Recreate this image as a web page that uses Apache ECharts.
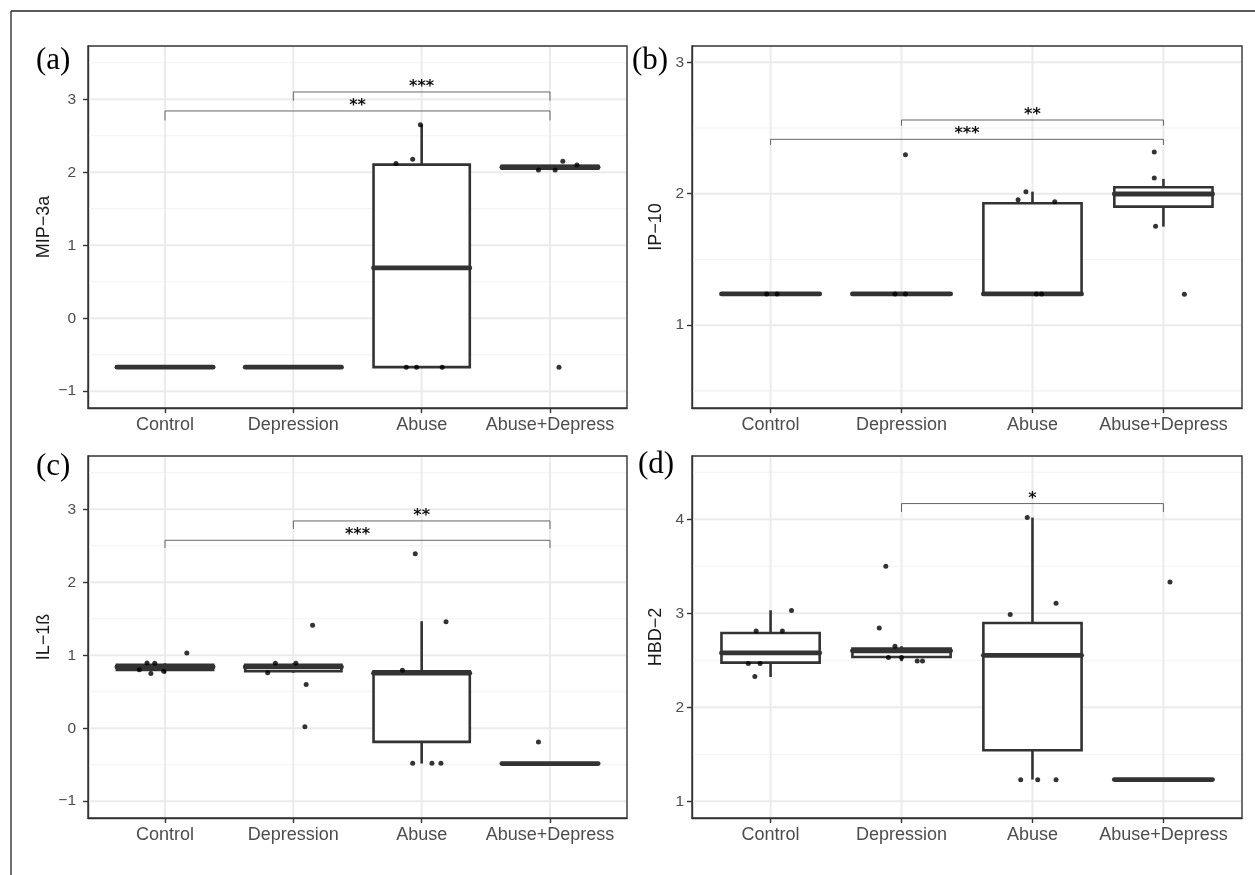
<!DOCTYPE html>
<html><head><meta charset="utf-8">
<script src="https://cdn.jsdelivr.net/npm/echarts@6/dist/echarts.min.js"></script>
<style>html,body{margin:0;padding:0;background:#fff}#c{width:1255px;height:875px}</style>
</head><body><div id="c"></div>
<script>
// ---------- data ----------
const categories = ['Control', 'Depression', 'Abuse', 'Abuse+Depress'];
const catPos = [1, 2, 3, 4];
const panelLabels = ['(a)', '(b)', '(c)', '(d)'];
const yTitles = ['MIP\u22123a', 'IP\u221210', 'IL\u22121\u00df', 'HBD\u22122'];

// y ranges
const yRangeA = [-1.23, 3.73];
const yRangeB = [0.37, 3.124];
const yRangeC = [-1.23, 3.73];
const yRangeD = [0.822, 4.673];

// tick labels / gridlines
const yTicksA = [-1, 0, 1, 2, 3];
const yMinorA = [-0.5, 0.5, 1.5, 2.5, 3.5];
const yTicksB = [1, 2, 3];
const yMinorB = [0.5, 1.5, 2.5];
const yTicksC = [-1, 0, 1, 2, 3];
const yMinorC = [-0.5, 0.5, 1.5, 2.5, 3.5];
const yTicksD = [1, 2, 3, 4];
const yMinorD = [1.5, 2.5, 3.5, 4.5];

// box stats: [x, min, q1, median, q3, max]
const boxesA = [
  [1, -0.67, -0.67, -0.67, -0.67, -0.67],
  [2, -0.67, -0.67, -0.67, -0.67, -0.67],
  [3, -0.67, -0.67, 0.689, 2.105, 2.653],
  [4, 2.03, 2.05, 2.07, 2.09, 2.10]
];
const boxesB = [
  [1, 1.238, 1.238, 1.238, 1.238, 1.238],
  [2, 1.238, 1.238, 1.238, 1.238, 1.238],
  [3, 1.238, 1.238, 1.238, 1.928, 2.016],
  [4, 1.75, 1.902, 1.998, 2.049, 2.113]
];
const boxesC = [
  [1, 0.75, 0.80, 0.84, 0.87, 0.89],
  [2, 0.76, 0.78, 0.84, 0.87, 0.89],
  [3, -0.484, -0.187, 0.755, 0.781, 1.466],
  [4, -0.484, -0.484, -0.484, -0.484, -0.484]
];
const boxesD = [
  [1, 2.322, 2.475, 2.578, 2.79, 3.032],
  [2, 2.49, 2.535, 2.60, 2.625, 2.65],
  [3, 1.231, 1.543, 2.553, 2.897, 4.018],
  [4, 1.231, 1.231, 1.231, 1.231, 1.231]
];

// jittered points: [x, y]
const pointsA = [
  [2.99, 2.65], [2.80, 2.12], [2.93, 2.18], [2.88, -0.67], [2.96, -0.67], [3.16, -0.67],
  [3.91, 2.03], [4.04, 2.03], [4.10, 2.15], [4.21, 2.10], [4.07, -0.67]
];
const pointsB = [
  [0.97, 1.238], [1.05, 1.238], [1.95, 1.238], [2.03, 1.238],
  [2.03, 2.297],
  [2.89, 1.955], [2.95, 2.016], [3.17, 1.94], [3.03, 1.238], [3.07, 1.238],
  [3.93, 2.318], [3.93, 2.12], [3.94, 1.753], [4.16, 1.236]
];
const pointsC = [
  [0.86, 0.894], [0.92, 0.89], [0.89, 0.75], [0.99, 0.78], [1.17, 1.03], [0.80, 0.80],
  [1.86, 0.89], [2.02, 0.89], [1.80, 0.76], [2.15, 1.41], [2.10, 0.60], [2.09, 0.02],
  [2.95, 2.39], [3.19, 1.46], [2.85, 0.795], [2.93, -0.48], [3.08, -0.48], [3.15, -0.48],
  [3.91, -0.187]
];
const pointsD = [
  [0.89, 2.81], [1.09, 2.81], [1.16, 3.03], [0.83, 2.465], [0.92, 2.465], [0.88, 2.326],
  [1.88, 3.5], [1.83, 2.844], [1.95, 2.649], [2.12, 2.493], [2.16, 2.493], [1.90, 2.53], [2.0, 2.53],
  [2.96, 4.02], [2.83, 2.986], [3.18, 3.106], [2.91, 1.23], [3.04, 1.23], [3.18, 1.23],
  [4.05, 3.333]
];

// significance brackets: [x1, x2, yBar, yTipEnd]
const bracketsA = [[2, 4, 3.10, 2.98], [1, 4, 2.84, 2.71]];
const bracketLabelsA = ['***', '**'];
const bracketsB = [[2, 4, 2.561, 2.518], [1, 4, 2.414, 2.371]];
const bracketLabelsB = ['**', '***'];
const bracketsC = [[2, 4, 2.84, 2.73], [1, 4, 2.575, 2.47]];
const bracketLabelsC = ['**', '***'];
const bracketsD = [[2, 4, 4.167, 4.078]];
const bracketLabelsD = ['*'];

// ---------- layout / style ----------
const SANS = '"Liberation Sans", Arial, Helvetica, sans-serif';
const grids = [
  { left: 88, top: 46, width: 539, height: 362 },
  { left: 692, top: 46, width: 550, height: 362 },
  { left: 88, top: 456, width: 539, height: 362 },
  { left: 692, top: 456, width: 550, height: 362 }
];
const nameGaps = [35, 27, 35, 27];
const labelMargins = [12, 8, 12, 8];
const panelLabelPos = [[36, 62], [632, 62], [36, 468], [638, 466]];

const panels = [
  { yr: yRangeA, ticks: yTicksA, minor: yMinorA, boxes: boxesA, pts: pointsA, br: bracketsA, brl: bracketLabelsA },
  { yr: yRangeB, ticks: yTicksB, minor: yMinorB, boxes: boxesB, pts: pointsB, br: bracketsB, brl: bracketLabelsB },
  { yr: yRangeC, ticks: yTicksC, minor: yMinorC, boxes: boxesC, pts: pointsC, br: bracketsC, brl: bracketLabelsC },
  { yr: yRangeD, ticks: yTicksD, minor: yMinorD, boxes: boxesD, pts: pointsD, br: bracketsD, brl: bracketLabelsD }
];

const BOX_W = 0.75;
const DARK = '#333333';

function fmtY(v) { return v < 0 ? '\u2212' + Math.abs(v) : String(v); }

const option = {
  animation: false,
  backgroundColor: '#ffffff',
  grid: grids.map(g => Object.assign({ show: true, borderColor: DARK, borderWidth: 1.4, backgroundColor: '#fff', containLabel: false }, g)),
  xAxis: [],
  yAxis: [],
  series: [],
  graphic: []
};

panels.forEach((p, i) => {
  option.xAxis.push({
    gridIndex: i, type: 'value', min: 0.4, max: 4.6,
    axisLine: { show: true, onZero: false, lineStyle: { color: DARK, width: 1.4 } },
    splitLine: { show: false },
    axisTick: { show: true, customValues: catPos, length: 5, lineStyle: { color: DARK, width: 1.4 } },
    axisLabel: { show: true, customValues: catPos, formatter: v => categories[Math.round(v) - 1], fontSize: 18, color: '#4d4d4d', margin: 8, fontFamily: SANS }
  });
  option.yAxis.push({
    gridIndex: i, type: 'value', min: p.yr[0], max: p.yr[1],
    name: yTitles[i], nameLocation: 'middle', nameGap: nameGaps[i],
    nameTextStyle: { fontSize: 18, color: '#1a1a1a', fontFamily: SANS },
    axisLine: { show: true, onZero: false, lineStyle: { color: DARK, width: 1.4 } },
    splitLine: { show: false },
    axisTick: { show: true, customValues: p.ticks, length: 5, lineStyle: { color: DARK, width: 1.4 } },
    axisLabel: { show: true, customValues: p.ticks, formatter: fmtY, fontSize: 15.5, color: '#4d4d4d', margin: labelMargins[i], fontFamily: SANS }
  });

  // minor horizontal gridlines
  option.series.push({
    type: 'custom', xAxisIndex: i, yAxisIndex: i, z: 1, silent: true,
    data: p.minor.map(v => [v]),
    renderItem: (params, api) => {
      const cs = params.coordSys;
      const y = api.coord([1, api.value(0)])[1];
      return { type: 'line', shape: { x1: cs.x + 1, y1: y, x2: cs.x + cs.width - 1, y2: y }, style: { stroke: '#f2f2f2', lineWidth: 1.1 } };
    }
  });
  // major horizontal gridlines
  option.series.push({
    type: 'custom', xAxisIndex: i, yAxisIndex: i, z: 1, silent: true,
    data: p.ticks.map(v => [v]),
    renderItem: (params, api) => {
      const cs = params.coordSys;
      const y = api.coord([1, api.value(0)])[1];
      return { type: 'line', shape: { x1: cs.x + 1, y1: y, x2: cs.x + cs.width - 1, y2: y }, style: { stroke: '#ebebeb', lineWidth: 2 } };
    }
  });
  // vertical gridlines
  option.series.push({
    type: 'custom', xAxisIndex: i, yAxisIndex: i, z: 1, silent: true,
    data: catPos.map(v => [v]),
    renderItem: (params, api) => {
      const cs = params.coordSys;
      const x = api.coord([api.value(0), p.yr[0]])[0];
      return { type: 'line', shape: { x1: x, y1: cs.y + 1, x2: x, y2: cs.y + cs.height - 1 }, style: { stroke: '#ebebeb', lineWidth: 2 } };
    }
  });
  // brackets
  option.series.push({
    type: 'custom', xAxisIndex: i, yAxisIndex: i, z: 3, silent: true,
    data: p.br,
    renderItem: (params, api) => {
      const a = api.coord([api.value(0), api.value(2)]);
      const b = api.coord([api.value(1), api.value(2)]);
      const ta = api.coord([api.value(0), api.value(3)]);
      const tb = api.coord([api.value(1), api.value(3)]);
      const st = { stroke: '#666', lineWidth: 1, fill: null };
      return {
        type: 'group', children: [
          { type: 'polyline', shape: { points: [[ta[0], ta[1]], [a[0], a[1]], [b[0], b[1]], [tb[0], tb[1]]] }, style: st },
          { type: 'text', style: { text: p.brl[params.dataIndex], x: (a[0] + b[0]) / 2, y: a[1] + 3, align: 'center', verticalAlign: 'bottom', font: 'bold 16px "DejaVu Sans"', fill: '#111' } }
        ]
      };
    }
  });
  // boxes
  option.series.push({
    type: 'custom', xAxisIndex: i, yAxisIndex: i, z: 4, silent: true,
    data: p.boxes,
    renderItem: (params, api) => {
      const x = api.value(0);
      const pMin = api.coord([x, api.value(1)]);
      const pQ1 = api.coord([x, api.value(2)]);
      const pMed = api.coord([x, api.value(3)]);
      const pQ3 = api.coord([x, api.value(4)]);
      const pMax = api.coord([x, api.value(5)]);
      const half = api.size([BOX_W, 0])[0] / 2;
      const cx = pMed[0];
      const ln = { stroke: DARK, lineWidth: 2.6 };
      return {
        type: 'group', children: [
          { type: 'line', shape: { x1: cx, y1: pQ3[1], x2: cx, y2: pMax[1] }, style: ln },
          { type: 'line', shape: { x1: cx, y1: pQ1[1], x2: cx, y2: pMin[1] }, style: ln },
          { type: 'rect', shape: { x: cx - half, y: pQ3[1], width: 2 * half, height: pQ1[1] - pQ3[1] }, style: { fill: '#fff', stroke: DARK, lineWidth: 2.6 } },
          { type: 'line', shape: { x1: cx - half, y1: pMed[1], x2: cx + half, y2: pMed[1] }, style: { stroke: DARK, lineWidth: 4.8, lineCap: 'round' } }
        ]
      };
    }
  });
  // points
  option.series.push({
    type: 'scatter', xAxisIndex: i, yAxisIndex: i, z: 5, silent: true,
    symbol: 'circle', symbolSize: 5,
    itemStyle: { color: '#000' },
    data: p.pts
  });

  option.graphic.push({
    type: 'text', left: panelLabelPos[i][0], top: panelLabelPos[i][1] - 17,
    style: { text: panelLabels[i], font: '31px "Liberation Serif", "Times New Roman", serif', fill: '#000' }
  });
});

// outer figure border (left and top visible)
option.graphic.push({ type: 'line', shape: { x1: 11, y1: 11, x2: 1255, y2: 11 }, style: { stroke: '#222', lineWidth: 1.3 } });
option.graphic.push({ type: 'line', shape: { x1: 11, y1: 11, x2: 11, y2: 875 }, style: { stroke: '#222', lineWidth: 1.3 } });

const chart = echarts.init(document.getElementById('c'), null, { renderer: 'canvas' });
chart.setOption(option);
</script>
</body></html>
